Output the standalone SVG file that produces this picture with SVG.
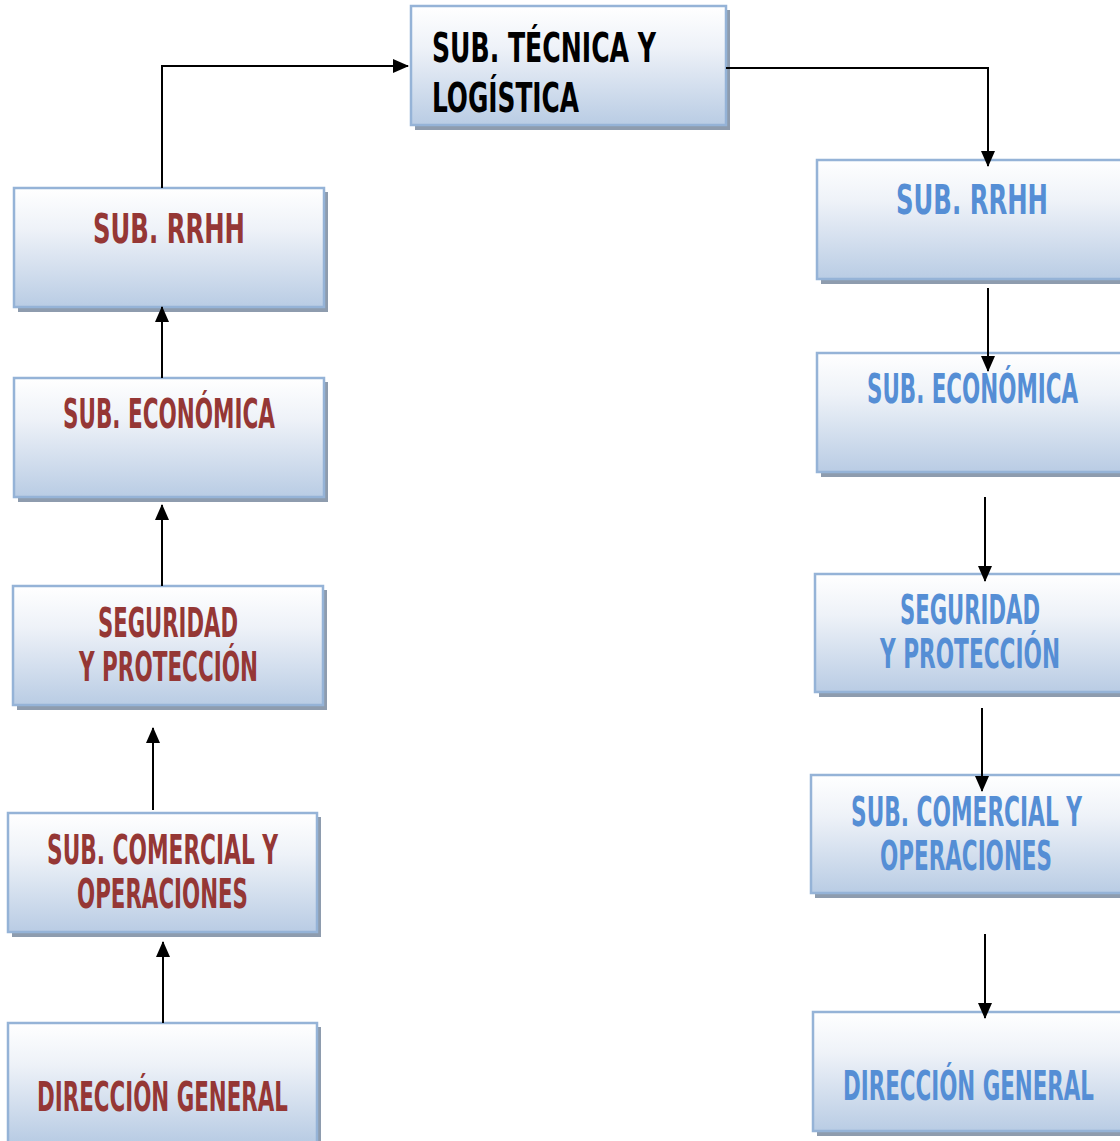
<svg xmlns="http://www.w3.org/2000/svg" width="1120" height="1141" viewBox="0 0 1120 1141">
  <defs>
    <linearGradient id="boxFill" x1="0" y1="0" x2="0" y2="1">
      <stop offset="0" stop-color="#ffffff"/>
      <stop offset="0.35" stop-color="#eef2f8"/>
      <stop offset="1" stop-color="#b9cce4"/>
    </linearGradient>
    <marker id="arrow" viewBox="0 0 16 14" refX="15" refY="7" markerWidth="16" markerHeight="14" markerUnits="userSpaceOnUse" orient="auto">
      <path d="M0,0 L16,7 L0,14 Z" fill="#000"/>
    </marker>
  </defs>
  <style>
    .shadow { fill: #8e9cae; }
    .box { fill: url(#boxFill); stroke: #95b3d7; stroke-width: 2.5; }
    .fill { fill: url(#boxFill); }
    .edge { fill: none; stroke: #95b3d7; stroke-width: 2.5; }
    .lbl { font-family: "Liberation Sans Narrow", "DejaVu Sans Condensed", "Liberation Sans", sans-serif; font-weight: bold; font-size: 40px; }
    .red { fill: #953735; }
    .blue { fill: #558ed5; }
    .black { fill: #000; }
    .conn { stroke: #000; stroke-width: 2; fill: none; }
  </style>

  <rect width="1120" height="1141" fill="#fff"/>

  <!-- central node; labels are squeezed horizontally to a narrow, condensed look -->
  <g id="tecnica">
    <rect class="shadow" x="415" y="10" width="315" height="120"/>
    <rect class="box" x="411" y="6" width="315" height="119"/>
    <text class="lbl black" transform="translate(432,62) scale(0.6,1)" font-size="48" textLength="373.3" lengthAdjust="spacingAndGlyphs">SUB. TÉCNICA Y</text>
    <text class="lbl black" transform="translate(432,112) scale(0.6,1)" font-size="48" textLength="245" lengthAdjust="spacingAndGlyphs">LOGÍSTICA</text>
  </g>

  <!-- left column (red) -->
  <g id="l-rrhh">
    <rect class="shadow" x="18" y="192" width="310" height="120"/>
    <rect class="box" x="14" y="188" width="310" height="119"/>
    <text class="lbl red" transform="translate(93,243) scale(0.6,1)" font-size="43" textLength="253.3" lengthAdjust="spacingAndGlyphs">SUB. RRHH</text>
  </g>
  <g id="l-economica">
    <rect class="shadow" x="18" y="382" width="310" height="120"/>
    <rect class="box" x="14" y="378" width="310" height="119"/>
    <text class="lbl red" transform="translate(63,428) scale(0.6,1)" textLength="353.3" lengthAdjust="spacingAndGlyphs">SUB. ECONÓMICA</text>
  </g>
  <g id="l-seguridad">
    <rect class="shadow" x="17" y="590" width="310" height="120"/>
    <rect class="box" x="13" y="586" width="310" height="119"/>
    <text class="lbl red" transform="translate(98,637) scale(0.6,1)" textLength="233.3" lengthAdjust="spacingAndGlyphs">SEGURIDAD</text>
    <text class="lbl red" transform="translate(79,681) scale(0.6,1)" textLength="298.3" lengthAdjust="spacingAndGlyphs">Y PROTECCIÓN</text>
  </g>
  <g id="l-comercial">
    <rect class="shadow" x="12" y="817" width="309" height="120"/>
    <rect class="box" x="8" y="813" width="309" height="119"/>
    <text class="lbl red" transform="translate(47,864) scale(0.6,1)" textLength="385" lengthAdjust="spacingAndGlyphs">SUB. COMERCIAL Y</text>
    <text class="lbl red" transform="translate(77,908) scale(0.6,1)" textLength="285" lengthAdjust="spacingAndGlyphs">OPERACIONES</text>
  </g>
  <g id="l-direccion">
    <rect class="shadow" x="12" y="1027" width="309" height="114"/>
    <rect class="fill" x="8" y="1023" width="309" height="118"/>
    <path class="edge" d="M8,1141 V1023 H317 V1141"/>
    <text class="lbl red" transform="translate(37,1111) scale(0.6,1)" textLength="418.3" lengthAdjust="spacingAndGlyphs">DIRECCIÓN GENERAL</text>
  </g>

  <!-- right column (blue); boxes are open at the right edge of the page -->
  <g id="r-rrhh">
    <rect class="shadow" x="821" y="164" width="299" height="120"/>
    <rect class="fill" x="817" y="160" width="303" height="119"/>
    <path class="edge" d="M1120,160 H817 V279 H1120"/>
    <text class="lbl blue" transform="translate(896,214) scale(0.6,1)" font-size="43" textLength="253.3" lengthAdjust="spacingAndGlyphs">SUB. RRHH</text>
  </g>
  <g id="r-economica">
    <rect class="shadow" x="821" y="357" width="299" height="120"/>
    <rect class="fill" x="817" y="353" width="303" height="119"/>
    <path class="edge" d="M1120,353 H817 V472 H1120"/>
    <text class="lbl blue" transform="translate(867,403) scale(0.6,1)" textLength="351.7" lengthAdjust="spacingAndGlyphs">SUB. ECONÓMICA</text>
  </g>
  <g id="r-seguridad">
    <rect class="shadow" x="819" y="578" width="301" height="119"/>
    <rect class="fill" x="815" y="574" width="305" height="118"/>
    <path class="edge" d="M1120,574 H815 V692 H1120"/>
    <text class="lbl blue" transform="translate(900,624) scale(0.6,1)" textLength="233.3" lengthAdjust="spacingAndGlyphs">SEGURIDAD</text>
    <text class="lbl blue" transform="translate(880,668) scale(0.6,1)" textLength="300" lengthAdjust="spacingAndGlyphs">Y PROTECCIÓN</text>
  </g>
  <g id="r-comercial">
    <rect class="shadow" x="815" y="779" width="305" height="119"/>
    <rect class="fill" x="811" y="775" width="309" height="118"/>
    <path class="edge" d="M1120,775 H811 V893 H1120"/>
    <text class="lbl blue" transform="translate(851,826) scale(0.6,1)" textLength="385" lengthAdjust="spacingAndGlyphs">SUB. COMERCIAL Y</text>
    <text class="lbl blue" transform="translate(880,870) scale(0.6,1)" textLength="286.7" lengthAdjust="spacingAndGlyphs">OPERACIONES</text>
  </g>
  <g id="r-direccion">
    <rect class="shadow" x="817" y="1016" width="303" height="120"/>
    <rect class="fill" x="813" y="1012" width="307" height="119"/>
    <path class="edge" d="M1120,1012 H813 V1131 H1120"/>
    <text class="lbl blue" transform="translate(843,1100) scale(0.6,1)" textLength="418.3" lengthAdjust="spacingAndGlyphs">DIRECCIÓN GENERAL</text>
  </g>

  <!-- connectors -->
  <g id="connectors">
    <polyline class="conn" points="162,188 162,66 408,66" marker-end="url(#arrow)"/>
    <polyline class="conn" points="726,68 988,68 988,166" marker-end="url(#arrow)"/>
    <line class="conn" x1="988" y1="288" x2="988" y2="371" marker-end="url(#arrow)"/>
    <line class="conn" x1="985" y1="497" x2="985" y2="581" marker-end="url(#arrow)"/>
    <line class="conn" x1="982" y1="708" x2="982" y2="791" marker-end="url(#arrow)"/>
    <line class="conn" x1="985" y1="934" x2="985" y2="1018" marker-end="url(#arrow)"/>
    <line class="conn" x1="162" y1="378" x2="162" y2="307" marker-end="url(#arrow)"/>
    <line class="conn" x1="162" y1="586" x2="162" y2="505" marker-end="url(#arrow)"/>
    <line class="conn" x1="153" y1="810" x2="153" y2="728" marker-end="url(#arrow)"/>
    <line class="conn" x1="163" y1="1023" x2="163" y2="942" marker-end="url(#arrow)"/>
  </g>
</svg>
